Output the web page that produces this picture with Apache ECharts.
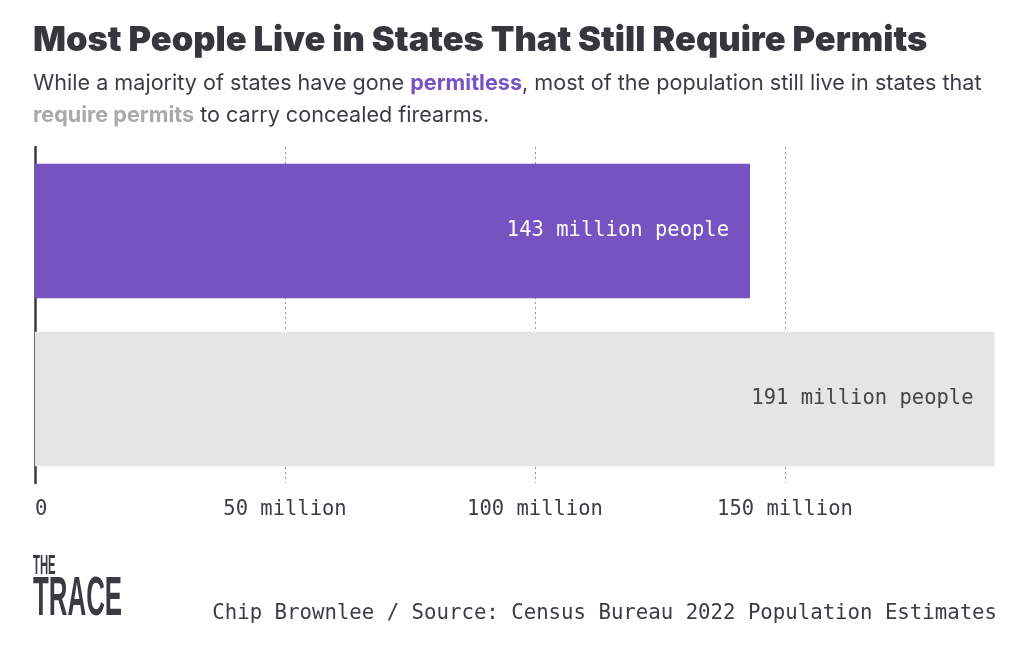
<!DOCTYPE html>
<html>
<head>
<meta charset="utf-8">
<script src="https://cdn.jsdelivr.net/npm/echarts@6/dist/echarts.min.js"></script>
<style>
html,body{margin:0;padding:0;background:#fff;}
#chart{width:1024px;height:646px;}
</style>
</head>
<body>
<div id="chart"></div>
<script>
var categories = ['Permitless', 'Require permits'];
var values = [143, 191.9];
var barLabels = ['143 million people', '191 million people'];
var barColors = ['#7653c1', '#e5e5e5'];
var labelColors = ['#ffffff', '#444444'];
var tickValues = [0, 50, 100, 150];
var tickLabels = ['0', '50 million', '100 million', '150 million'];

var MONO = '"DejaVu Sans Mono", "Liberation Mono", monospace';
var chart = echarts.init(document.getElementById('chart'));

var option = {
  backgroundColor: '#ffffff',
  animation: false,
  grid: { left: 35, right: 1024 - 35 - values[1] * 5, top: 147, bottom: 163, containLabel: false },
  title: [
    {
      text: 'Most People Live in States That Still Require Permits',
      left: 28, top: 18,
      textStyle: { fontFamily: 'Inter', fontWeight: 900, fontSize: 34.5, color: '#37363c' }
    },
    {
      text: '{n|While a majority of states have gone }{p|permitless}{n|, most of the population still live in states that}\n{g|require permits}{n| to carry concealed firearms.}',
      left: 28, top: 62,
      textStyle: {
        fontWeight: 'normal',
        rich: {
          n: { fontFamily: 'Inter', fontSize: 21.6, fontWeight: 'normal', color: '#3c3c44', lineHeight: 32 },
          p: { fontFamily: 'Inter', fontSize: 21.6, fontWeight: 'bold', color: '#7653c1', lineHeight: 32 },
          g: { fontFamily: 'Inter', fontSize: 21.6, fontWeight: 'bold', color: '#aaaaaa', lineHeight: 32 }
        }
      }
    },
    {
      text: 'Chip Brownlee / Source: Census Bureau 2022 Population Estimates',
      right: 22, top: 598,
      textStyle: { fontFamily: MONO, fontSize: 20.7, fontWeight: 'normal', color: '#3c3c44' }
    }
  ],
  xAxis: {
    type: 'value',
    min: 0,
    max: values[1],
    interval: 50,
    axisLine: { show: false },
    axisTick: { show: false },
    splitLine: { show: true, lineStyle: { type: [2, 3], color: ['rgba(0,0,0,0)', '#999', '#999', '#999', 'rgba(0,0,0,0)'], width: 1 } },
    axisLabel: {
      margin: 16,
      fontFamily: MONO, fontSize: 20.5, color: '#3c3c44',
      showMaxLabel: false,
      alignMinLabel: 'left',
      formatter: function (v) {
        var i = tickValues.indexOf(v);
        return i >= 0 ? tickLabels[i] : '';
      }
    }
  },
  yAxis: {
    type: 'category',
    data: categories,
    inverse: true,
    axisLine: { show: true, lineStyle: { color: '#3a3a3a', width: 2.5 } },
    axisTick: { show: false },
    axisLabel: { show: false }
  },
  series: [{
    type: 'bar',
    barCategoryGap: '20%',
    data: values.map(function (v, i) {
      return {
        value: v,
        itemStyle: { color: barColors[i] },
        label: { color: labelColors[i] }
      };
    }),
    label: {
      show: true,
      position: 'insideRight',
      distance: 21,
      fontFamily: MONO, fontSize: 20.5,
      formatter: function (p) { return barLabels[p.dataIndex]; }
    },
    z: 1
  }],
  graphic: [
    {
      type: 'text', left: 33, top: 553, scaleX: 0.42,
      style: { text: 'THE', font: 'bold 27px "Liberation Sans", sans-serif', fill: '#3a3a40' }
    },
    {
      type: 'text', left: 33, top: 572, scaleX: 0.47,
      style: { text: 'TRACE', font: 'bold 55px "Liberation Sans", sans-serif', fill: '#3a3a40' }
    }
  ]
};
chart.setOption(option);
</script>
</body>
</html>
